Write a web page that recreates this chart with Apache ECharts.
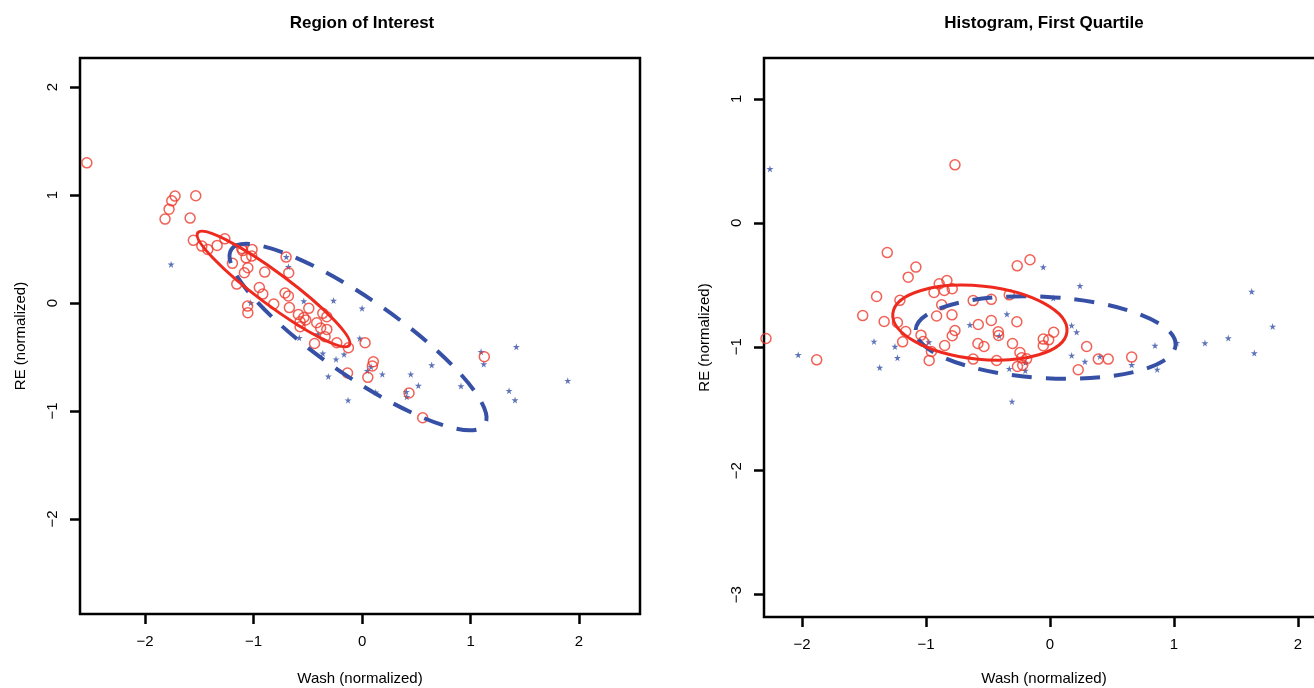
<!DOCTYPE html>
<html>
<head>
<meta charset="utf-8">
<script src="https://cdn.jsdelivr.net/npm/echarts@6/dist/echarts.min.js"></script>
<style>
  html, body { margin: 0; padding: 0; background: #fff; }
  #main { width: 1314px; height: 688px; }
</style>
</head>
<body>
<div id="main"></div>
<script>
// tick labels
var xTicks = [-2, -1, 0, 1, 2];
var roiYTicks = [-2, -1, 0, 1, 2];
var histYTicks = [-3, -2, -1, 0, 1];

// Region of Interest: [wash, RE]
var roiCircles = [
  [-2.537, 1.299], [-1.724, 0.991], [-1.754, 0.947], [-1.779, 0.870], [-1.816, 0.778],
  [-1.533, 0.994], [-1.585, 0.787], [-1.555, 0.581], [-1.477, 0.528], [-1.422, 0.497],
  [-1.336, 0.534], [-1.265, 0.595], [-1.109, 0.506], [-1.100, 0.486], [-1.014, 0.497],
  [-1.069, 0.419], [-1.017, 0.435], [-1.195, 0.368], [-1.053, 0.327], [-1.085, 0.281],
  [-0.897, 0.287], [-0.700, 0.426], [-0.676, 0.281], [-1.155, 0.176], [-0.947, 0.144],
  [-0.915, 0.083], [-1.055, -0.028], [-1.053, -0.090], [-0.814, -0.009], [-0.710, 0.093],
  [-0.679, 0.065], [-0.670, -0.042], [-0.491, -0.049], [-0.587, -0.105], [-0.537, -0.134],
  [-0.519, -0.157], [-0.571, -0.173], [-0.571, -0.219], [-0.362, -0.095], [-0.325, -0.127],
  [-0.418, -0.182], [-0.382, -0.231], [-0.325, -0.244], [-0.341, -0.312], [-0.233, -0.368],
  [-0.126, -0.414], [-0.438, -0.375], [0.028, -0.368], [-0.134, -0.648], [0.104, -0.544],
  [0.095, -0.583], [0.053, -0.688], [0.433, -0.833], [1.127, -0.497], [0.559, -1.062]
];
var roiStars = [
  [-1.760, 0.358], [-0.698, 0.429], [-0.679, 0.336], [-1.026, 0.003], [-0.537, 0.019],
  [-0.263, 0.023], [0.000, -0.049], [-0.579, -0.322], [-0.406, -0.287], [-0.021, -0.327],
  [-0.362, -0.466], [-0.240, -0.520], [-0.166, -0.474], [-0.311, -0.679], [-0.129, -0.900],
  [0.187, -0.659], [0.126, -0.827], [0.049, -0.627], [0.083, -0.590], [0.449, -0.659],
  [0.642, -0.574], [0.519, -0.764], [0.408, -0.821], [0.412, -0.868], [0.912, -0.769],
  [1.097, -0.451], [1.122, -0.565], [1.422, -0.405], [1.355, -0.812], [1.410, -0.898],
  [1.896, -0.719]
];
// ellipses: [centre x, centre y, semi-major, semi-minor, angle in degrees]
var roiCircleEllipse = [-0.816, 0.130, 0.87, 0.148, -36.6];
var roiStarEllipse = [-0.037, -0.315, 1.42, 0.355, -34.7];

// Histogram, First Quartile
var histCircles = [
  [-0.766, 0.468], [-1.312, -0.240], [-1.081, -0.357], [-1.143, -0.438], [-0.264, -0.347],
  [-0.161, -0.298], [-0.893, -0.492], [-0.831, -0.465], [-0.935, -0.562], [-0.852, -0.546],
  [-0.788, -0.532], [-1.398, -0.594], [-1.210, -0.625], [-0.619, -0.627], [-0.473, -0.617],
  [-0.328, -0.581], [-0.873, -0.661], [-1.510, -0.748], [-1.337, -0.796], [-1.230, -0.804],
  [-0.914, -0.752], [-0.790, -0.742], [-0.267, -0.798], [-0.578, -0.820], [-0.473, -0.788],
  [-1.163, -0.877], [-0.766, -0.869], [-0.788, -0.911], [-0.417, -0.879], [-0.414, -0.909],
  [0.030, -0.883], [-1.040, -0.906], [-1.022, -0.957], [-1.188, -0.960], [-0.849, -0.990],
  [-0.581, -0.973], [-0.532, -0.998], [-0.302, -0.973], [-0.054, -0.938], [-0.010, -0.944],
  [-0.054, -0.992], [-0.242, -1.046], [-0.956, -1.038], [-0.974, -1.110], [-0.619, -1.099],
  [-0.430, -1.111], [-0.228, -1.089], [-0.188, -1.097], [-0.220, -1.149], [-0.262, -1.159],
  [-1.881, -1.105], [-2.290, -0.933], [0.296, -0.998], [0.390, -1.099], [0.470, -1.099],
  [0.228, -1.185], [0.659, -1.083]
];
var histStars = [
  [-2.258, 0.435], [-0.054, -0.357], [0.027, -0.607], [-0.347, -0.736], [-0.645, -0.823],
  [-0.409, -0.911], [-1.419, -0.957], [-1.250, -0.998], [-0.976, -0.962], [-2.030, -1.065],
  [-1.230, -1.089], [-1.373, -1.167], [-0.198, -1.127], [-0.328, -1.177], [-0.199, -1.192],
  [-0.306, -1.441], [0.242, -0.508], [0.175, -0.828], [0.215, -0.881], [0.175, -1.070],
  [0.282, -1.119], [0.403, -1.078], [0.659, -1.145], [0.847, -0.990], [0.865, -1.183],
  [1.022, -0.968], [1.250, -0.970], [1.438, -0.930], [1.627, -0.554], [1.796, -0.836],
  [1.648, -1.051]
];
var histCircleEllipse = [-0.565, -0.805, 0.706, 0.295, -6.0];
var histStarEllipse = [-0.035, -0.925, 1.050, 0.328, -3.3];

var RED = '#ee3a2c';
var BLUE = '#3650a6';
var FONT = '"Liberation Sans", Arial, sans-serif';
var STAR = 'path://M50,0 L61,35 L98,35 L68,57 L79,91 L50,70 L21,91 L32,57 L2,35 L39,35 Z';

var myChart = echarts.init(document.getElementById('main'));

function minusSign(v) {
    return String(v).replace('-', '\u2212');
}

function ellipseRenderer(color, width, dash) {
    return function (params, api) {
        var c = api.coord([api.value(0), api.value(1)]);
        var s = api.size([api.value(2), api.value(3)]);
        return {
            type: 'ellipse',
            x: c[0],
            y: c[1],
            rotation: api.value(4) * Math.PI / 180,
            shape: { cx: 0, cy: 0, rx: s[0], ry: s[1] },
            style: { fill: null, stroke: color, lineWidth: width, lineDash: dash }
        };
    };
}

function xAxisFor(idx, min, max, gap) {
    return {
        type: 'value', gridIndex: idx, min: min, max: max,
        name: 'Wash (normalized)', nameLocation: 'middle', nameGap: gap,
        nameTextStyle: { fontFamily: FONT, fontSize: 15, color: '#000' },
        axisLine: { show: false, onZero: false },
        axisTick: { show: true, length: 10, customValues: xTicks, lineStyle: { color: '#000', width: 2.5 } },
        axisLabel: { customValues: xTicks, formatter: minusSign, margin: 20, fontFamily: FONT, fontSize: 15, color: '#000' },
        splitLine: { show: false }
    };
}

function yAxisFor(idx, min, max, ticks) {
    return {
        type: 'value', gridIndex: idx, min: min, max: max,
        name: 'RE (normalized)', nameLocation: 'middle', nameGap: 52, nameRotate: 90,
        nameTextStyle: { fontFamily: FONT, fontSize: 15, color: '#000' },
        axisLine: { show: false, onZero: false },
        axisTick: { show: true, length: 10, customValues: ticks, lineStyle: { color: '#000', width: 2.5 } },
        axisLabel: { customValues: ticks, formatter: minusSign, rotate: 90, margin: 20, fontFamily: FONT, fontSize: 15, color: '#000' },
        splitLine: { show: false }
    };
}

function circleSeries(idx, data) {
    return {
        type: 'scatter', xAxisIndex: idx, yAxisIndex: idx,
        symbol: 'circle', symbolSize: 10,
        itemStyle: { color: 'rgba(0,0,0,0)', borderColor: RED, borderWidth: 1.5 },
        data: data, z: 3
    };
}

function starSeries(idx, data) {
    return {
        type: 'scatter', xAxisIndex: idx, yAxisIndex: idx,
        symbol: STAR, symbolSize: 7,
        itemStyle: { color: BLUE },
        data: data, z: 2
    };
}

function ellipseSeries(idx, params, color, width, dash) {
    return {
        type: 'custom', xAxisIndex: idx, yAxisIndex: idx,
        renderItem: ellipseRenderer(color, width, dash),
        encode: { x: 0, y: 1 },
        data: [params], z: 4, silent: true
    };
}

var option = {
    animation: false,
    backgroundColor: '#fff',
    title: [
        { text: 'Region of Interest', left: 357, top: 10, textAlign: 'center',
          textStyle: { fontFamily: FONT, fontSize: 17, fontWeight: 'bold', color: '#000' } },
        { text: 'Histogram, First Quartile', left: 1039, top: 10, textAlign: 'center',
          textStyle: { fontFamily: FONT, fontSize: 17, fontWeight: 'bold', color: '#000' } }
    ],
    grid: [
        { left: 80, top: 58, width: 560, height: 556, show: true, borderColor: '#000', borderWidth: 2.5,
          containLabel: false, outerBoundsMode: 'none' },
        { left: 764, top: 58, width: 560, height: 559, show: true, borderColor: '#000', borderWidth: 2.5,
          containLabel: false, outerBoundsMode: 'none' }
    ],
    xAxis: [xAxisFor(0, -2.6, 2.562, 57), xAxisFor(1, -2.306, 2.21, 54)],
    yAxis: [yAxisFor(0, -2.88, 2.27, roiYTicks), yAxisFor(1, -3.18, 1.33, histYTicks)],
    series: [
        starSeries(0, roiStars),
        circleSeries(0, roiCircles),
        ellipseSeries(0, roiStarEllipse, BLUE, 4, [20, 14]),
        ellipseSeries(0, roiCircleEllipse, '#ee2a1f', 3, null),
        starSeries(1, histStars),
        circleSeries(1, histCircles),
        ellipseSeries(1, histStarEllipse, BLUE, 4, [20, 14]),
        ellipseSeries(1, histCircleEllipse, '#ee2a1f', 3, null)
    ]
};

myChart.setOption(option);

window.addEventListener('resize', function () {
    myChart.resize();
});
</script>
</body>
</html>
